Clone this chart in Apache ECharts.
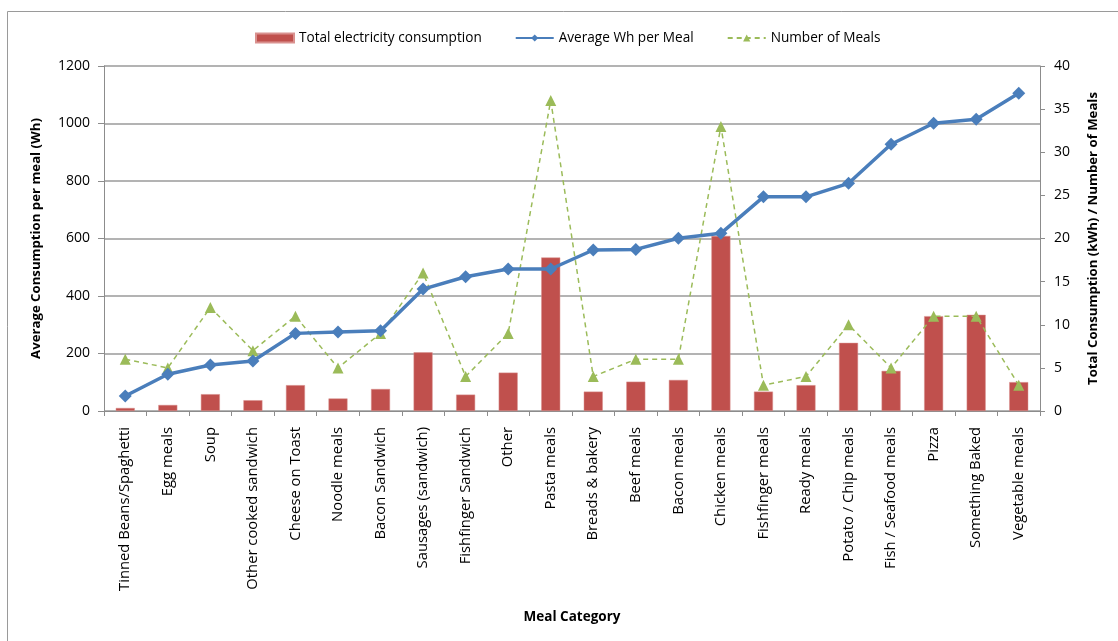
<!DOCTYPE html>
<html>
<head>
<meta charset="utf-8">
<script src="https://cdn.jsdelivr.net/npm/echarts@6/dist/echarts.min.js"></script>
<style>
  html, body { margin: 0; padding: 0; background: #fff; }
  #chart { width: 1118px; height: 641px; }
</style>
</head>
<body>
<div id="chart"></div>
<script>
// Meal categories, ordered by average energy per meal
const categories = [
  'Tinned Beans/Spaghetti', 'Egg meals', 'Soup', 'Other cooked sandwich',
  'Cheese on Toast', 'Noodle meals', 'Bacon Sandwich', 'Sausages (sandwich)',
  'Fishfinger Sandwich', 'Other', 'Pasta meals', 'Breads & bakery',
  'Beef meals', 'Bacon meals', 'Chicken meals', 'Fishfinger meals',
  'Ready meals', 'Potato / Chip meals', 'Fish / Seafood meals', 'Pizza',
  'Something Baked', 'Vegetable meals'
];

// Total electricity consumption per category (kWh, right axis)
const totalKWh = [0.35, 0.7, 1.95, 1.25, 3.0, 1.45, 2.55, 6.8, 1.9, 4.45, 17.8,
  2.25, 3.4, 3.6, 20.3, 2.25, 3.0, 7.9, 4.65, 11.0, 11.15, 3.35];

// Average energy per meal (Wh, left axis)
const avgWh = [52, 128, 160, 174, 270, 275, 279, 424, 467, 494, 494,
  560, 562, 601, 618, 745, 745, 792, 928, 1001, 1015, 1105];

// Number of meals recorded (right axis)
const mealCount = [6, 5, 12, 7, 11, 5, 9, 16, 4, 9, 36,
  4, 6, 6, 33, 3, 4, 10, 5, 11, 11, 3];

const leftTicks = { min: 0, max: 1200, interval: 200 };
const rightTicks = { min: 0, max: 40, interval: 5 };

const FONT = '"Open Sans", "Liberation Sans", sans-serif';
const AXIS_GRAY = '#8c8c8c';

const chart = echarts.init(document.getElementById('chart'), null, { renderer: 'canvas' });

chart.setOption({
  backgroundColor: '#ffffff',
  animation: false,
  textStyle: { fontFamily: FONT, color: '#000' },
  graphic: [{
    type: 'rect',
    silent: true,
    shape: { x: 7.5, y: 11.5, width: 1200, height: 700 },
    style: { fill: 'none', stroke: '#9a9a9a', lineWidth: 1 }
  }],
  legend: {
    top: 26,
    left: 250,
    itemGap: 33,
    itemWidth: 38,
    itemHeight: 9,
    textStyle: { fontFamily: FONT, fontSize: 13.6, color: '#000' },
    data: [
      { name: 'Total electricity consumption', icon: 'rect' },
      { name: 'Average Wh per Meal' },
      { name: 'Number of Meals' }
    ]
  },
  grid: { left: 104, right: 78, top: 66, bottom: 230, containLabel: false },
  xAxis: {
    type: 'category',
    data: categories,
    name: 'Meal Category',
    nameLocation: 'middle',
    nameGap: 199,
    nameTextStyle: { fontFamily: FONT, fontSize: 13.5, fontWeight: 'bold', color: '#000' },
    axisLine: { lineStyle: { color: AXIS_GRAY, width: 1 } },
    axisTick: { show: true, alignWithLabel: false, length: 5, lineStyle: { color: AXIS_GRAY } },
    axisLabel: {
      rotate: 90,
      interval: 0,
      margin: 16,
      fontFamily: FONT,
      fontSize: 14.8,
      color: '#000'
    }
  },
  yAxis: [
    {
      type: 'value',
      min: leftTicks.min,
      max: leftTicks.max,
      interval: leftTicks.interval,
      position: 'left',
      name: 'Average Consumption per meal (Wh)',
      nameLocation: 'middle',
      nameGap: 61,
      nameRotate: 90,
      nameTextStyle: { fontFamily: FONT, fontSize: 13.2, fontWeight: 'bold', color: '#000' },
      axisLine: { show: true, lineStyle: { color: AXIS_GRAY } },
      axisTick: { show: true, length: 6, lineStyle: { color: AXIS_GRAY } },
      axisLabel: {
        fontFamily: FONT, fontSize: 14, color: '#000', margin: 14,
        formatter: v => String(v)
      },
      splitLine: { show: true, lineStyle: { color: '#9a9a9a', width: 1.5 } }
    },
    {
      type: 'value',
      min: rightTicks.min,
      max: rightTicks.max,
      interval: rightTicks.interval,
      position: 'right',
      name: 'Total Consumption (kWh) / Number of Meals',
      nameLocation: 'middle',
      nameGap: 47,
      nameRotate: 90,
      nameTextStyle: { fontFamily: FONT, fontSize: 13.2, fontWeight: 'bold', color: '#000' },
      axisLine: { show: true, lineStyle: { color: AXIS_GRAY } },
      axisTick: { show: true, length: 5, lineStyle: { color: AXIS_GRAY } },
      axisLabel: { fontFamily: FONT, fontSize: 14, color: '#000', margin: 14 },
      splitLine: { show: false }
    }
  ],
  series: [
    {
      name: 'Total electricity consumption',
      type: 'bar',
      yAxisIndex: 1,
      data: totalKWh,
      barWidth: 19,
      itemStyle: { color: '#C0504D', borderColor: '#d9918f', borderWidth: 0.5 },
      z: 1
    },
    {
      name: 'Average Wh per Meal',
      type: 'line',
      yAxisIndex: 0,
      data: avgWh,
      symbol: 'diamond',
      symbolSize: 13,
      lineStyle: { color: '#4A7EBB', width: 3.5 },
      itemStyle: { color: '#4A7EBB' },
      z: 3
    },
    {
      name: 'Number of Meals',
      type: 'line',
      yAxisIndex: 1,
      data: mealCount,
      symbol: 'triangle',
      symbolSize: 11,
      lineStyle: { color: '#9BBB59', width: 1.5, type: [5, 4] },
      itemStyle: { color: '#9BBB59' },
      z: 2
    }
  ]
});
</script>
</body>
</html>
